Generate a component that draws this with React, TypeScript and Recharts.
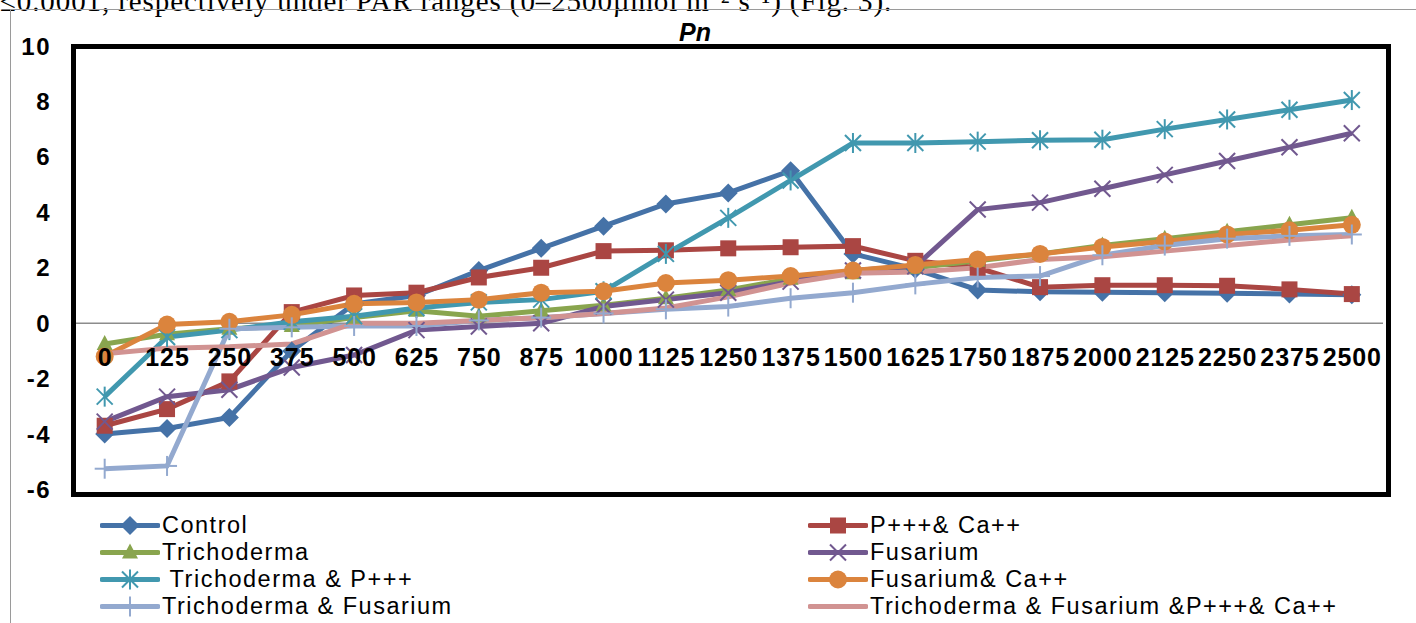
import React from "react";
import { LineChart, Line, XAxis, YAxis, ReferenceLine } from "recharts";

const categories = [
  "0", "125", "250", "375", "500", "625", "750", "875", "1000", "1125", "1250",
  "1375", "1500", "1625", "1750", "1875", "2000", "2125", "2250", "2375", "2500",
];

const control = [-4.0, -3.8, -3.4, -1.0, 0.7, 1.0, 1.9, 2.7, 3.5, 4.3, 4.7, 5.5, 2.5, 1.95, 1.2, 1.13, 1.12, 1.1, 1.08, 1.05, 1.03];
const pCa = [-3.7, -3.1, -2.1, 0.4, 1.0, 1.1, 1.65, 2.0, 2.6, 2.63, 2.7, 2.74, 2.78, 2.25, 2.0, 1.3, 1.37, 1.37, 1.35, 1.22, 1.05];
const trichoderma = [-0.75, -0.4, -0.2, -0.1, 0.2, 0.45, 0.25, 0.45, 0.65, 0.9, 1.2, 1.6, 1.8, 2.0, 2.25, 2.5, 2.8, 3.05, 3.3, 3.55, 3.8];
const fusarium = [-3.55, -2.65, -2.4, -1.6, -1.15, -0.25, -0.12, 0.0, 0.6, 0.85, 1.1, 1.5, 1.9, 2.05, 4.1, 4.35, 4.85, 5.35, 5.85, 6.35, 6.85];
const trichP = [-2.65, -0.5, -0.25, 0.05, 0.25, 0.55, 0.75, 0.85, 1.15, 2.5, 3.8, 5.15, 6.5, 6.5, 6.55, 6.6, 6.62, 7.0, 7.35, 7.7, 8.05];
const fusCa = [-1.2, -0.05, 0.05, 0.3, 0.7, 0.75, 0.85, 1.1, 1.15, 1.45, 1.55, 1.7, 1.9, 2.1, 2.3, 2.5, 2.75, 2.95, 3.2, 3.35, 3.55];
const trichFus = [-5.25, -5.15, -0.2, -0.15, -0.1, -0.1, 0.1, 0.2, 0.35, 0.5, 0.6, 0.9, 1.1, 1.4, 1.65, 1.7, 2.45, 2.8, 3.05, 3.15, 3.2];
const allFour = [-1.1, -0.9, -0.85, -0.75, 0.0, 0.0, 0.1, 0.2, 0.35, 0.55, 0.95, 1.45, 1.8, 1.85, 2.0, 2.3, 2.4, 2.6, 2.8, 3.0, 3.15];

const yTicks = [-6, -4, -2, 0, 2, 4, 6, 8, 10];
const Y_MIN = -6;
const Y_MAX = 10;

type Shape = "diamond" | "square" | "triangle" | "x" | "asterisk" | "circle" | "plus" | "none";

const series: { key: string; name: string; values: number[]; color: string; shape: Shape }[] = [
  { key: "control", name: "Control", values: control, color: "#4572A7", shape: "diamond" },
  { key: "pCa", name: "P+++& Ca++", values: pCa, color: "#AA4643", shape: "square" },
  { key: "trichoderma", name: "Trichoderma", values: trichoderma, color: "#89A54E", shape: "triangle" },
  { key: "fusarium", name: "Fusarium", values: fusarium, color: "#71588F", shape: "x" },
  { key: "trichP", name: " Trichoderma & P+++", values: trichP, color: "#4198AF", shape: "asterisk" },
  { key: "fusCa", name: "Fusarium& Ca++", values: fusCa, color: "#DB843D", shape: "circle" },
  { key: "trichFus", name: "Trichoderma & Fusarium", values: trichFus, color: "#93A9CF", shape: "plus" },
  { key: "allFour", name: "Trichoderma & Fusarium &P+++& Ca++", values: allFour, color: "#D19392", shape: "none" },
];

const data = categories.map((c, i) => {
  const row: Record<string, string | number> = { par: c };
  series.forEach((s) => (row[s.key] = s.values[i]));
  return row;
});

const W = 1416;
const H = 623;
const PLOT_LEFT = 73.5;
const PLOT_TOP = 46;
const PLOT_RIGHT = 1383;
const PLOT_BOTTOM = 489.5;
const PLOT_H = PLOT_BOTTOM - PLOT_TOP;
const Y_AXIS_W = 60;
const X_AXIS_H = 20;
// half a category band on each side, Excel style
const HALF_BAND = (PLOT_RIGHT - PLOT_LEFT) / categories.length / 2;

function marker(shape: Shape, cx: number, cy: number, color: string, key?: string | number) {
  switch (shape) {
    case "diamond":
      return <polygon key={key} points={`${cx},${cy - 9.5} ${cx + 9.5},${cy} ${cx},${cy + 9.5} ${cx - 9.5},${cy}`} fill={color} />;
    case "square":
      return <rect key={key} x={cx - 8} y={cy - 8} width={16} height={16} fill={color} />;
    case "triangle":
      return <polygon key={key} points={`${cx},${cy - 9} ${cx + 8},${cy + 6} ${cx - 8},${cy + 6}`} fill={color} />;
    case "circle":
      return <circle key={key} cx={cx} cy={cy} r={9} fill={color} />;
    case "x":
      return (
        <g key={key} stroke={color} strokeWidth={2}>
          <line x1={cx - 8} y1={cy - 8} x2={cx + 8} y2={cy + 8} />
          <line x1={cx - 8} y1={cy + 8} x2={cx + 8} y2={cy - 8} />
        </g>
      );
    case "asterisk":
      return (
        <g key={key} stroke={color} strokeWidth={2}>
          <line x1={cx - 8} y1={cy - 8} x2={cx + 8} y2={cy + 8} />
          <line x1={cx - 8} y1={cy + 8} x2={cx + 8} y2={cy - 8} />
          <line x1={cx} y1={cy - 10} x2={cx} y2={cy + 10} />
        </g>
      );
    case "plus":
      return (
        <g key={key} stroke={color} strokeWidth={2}>
          <line x1={cx} y1={cy - 10} x2={cx} y2={cy + 10} />
          <line x1={cx - 10} y1={cy} x2={cx + 10} y2={cy} />
        </g>
      );
    default:
      return <g key={key} />;
  }
}

const XTick = (props: any) => {
  const { x, payload } = props;
  // labels sit just under the zero line, as in the original
  const zeroY = PLOT_BOTTOM - ((0 - Y_MIN) / (Y_MAX - Y_MIN)) * PLOT_H;
  return (
    <text x={x + 0.5} y={zeroY + 43} textAnchor="middle" fontSize={25} fontWeight="bold" letterSpacing={0.9} fill="#000" fontFamily="Liberation Sans, Arial, sans-serif">
      {payload.value}
    </text>
  );
};

const YTick = (props: any) => {
  const { y, payload } = props;
  return (
    <text x={51} y={y + 8.5} textAnchor="end" fontSize={24} fontWeight="bold" letterSpacing={1.5} fill="#000" fontFamily="Liberation Sans, Arial, sans-serif">
      {payload.value}
    </text>
  );
};

export default function App() {
  return (
    <div style={{ position: "absolute", left: 0, top: 0, width: W, height: H, overflow: "hidden", background: "#fff" }}>
      <div
        style={{
          position: "absolute",
          left: 0,
          top: -20,
          fontFamily: "Liberation Serif, Times New Roman, serif",
          fontSize: 29,
          letterSpacing: 0.9,
          whiteSpace: "nowrap",
          color: "#000",
        }}
      >
        ≤0.0001, respectively under PAR ranges (0–2500µmol m⁻² s⁻¹) (Fig. 3).
      </div>
      <div
        style={{
          position: "absolute",
          left: 10,
          top: 9,
          width: W,
          height: H,
          borderLeft: "1.5px solid #9a9a9a",
          borderTop: "1.5px solid #9a9a9a",
        }}
      />
      <span
        style={{
          position: "absolute",
          left: 679,
          top: 18,
          fontFamily: "Liberation Sans, Arial, sans-serif",
          fontSize: 25,
          fontWeight: "bold",
          fontStyle: "italic",
        }}
      >
        Pn
      </span>
      <div style={{ position: "absolute", left: 0, top: 0 }}>
        <LineChart
          width={W}
          height={H}
          data={data}
          margin={{ top: PLOT_TOP, right: W - PLOT_RIGHT, bottom: H - PLOT_BOTTOM - X_AXIS_H, left: PLOT_LEFT - Y_AXIS_W }}
        >
          <XAxis
            dataKey="par"
            axisLine={false}
            tickLine={false}
            tickSize={0}
            tickMargin={0}
            height={X_AXIS_H}
            interval={0}
            padding={{ left: HALF_BAND, right: HALF_BAND }}
            tick={(p: any) => <XTick {...p} />}
          />
          <YAxis domain={[Y_MIN, Y_MAX]} ticks={yTicks} width={Y_AXIS_W} axisLine={false} tickLine={false} tick={(p: any) => <YTick {...p} />} interval={0} />
          <ReferenceLine y={0} stroke="#8c8c8c" strokeWidth={1.5} />
          {series.map((s) => (
            <Line
              key={s.key}
              dataKey={s.key}
              name={s.name}
              stroke={s.color}
              strokeWidth={5}
              isAnimationActive={false}
              dot={(p: any) => marker(s.shape, p.cx, p.cy, s.color, `${s.key}-${p.index}`)}
              activeDot={false}
            />
          ))}
        </LineChart>
      </div>
      <div
        style={{
          position: "absolute",
          left: PLOT_LEFT - 2.5,
          top: PLOT_TOP - 2.5,
          width: PLOT_RIGHT - PLOT_LEFT,
          height: PLOT_BOTTOM - PLOT_TOP,
          border: "5px solid #000",
          pointerEvents: "none",
        }}
      />
      {series.map((s, i) => {
        const col = i % 2;
        const row = Math.floor(i / 2);
        const left = col === 0 ? 100 : 808;
        const top = 512 + row * 27;
        return (
          <div key={s.key} style={{ position: "absolute", left, top, height: 27, display: "flex", alignItems: "center" }}>
            <svg width={60} height={27} style={{ display: "block" }}>
              <line x1={2} y1={13.5} x2={58} y2={13.5} stroke={s.color} strokeWidth={5} strokeLinecap="round" />
              {marker(s.shape, 30, 13.5, s.color)}
            </svg>
            <span
              style={{
                fontFamily: "Liberation Sans, Arial, sans-serif",
                fontSize: 23.5,
                letterSpacing: 1.5,
                color: "#000",
                whiteSpace: "pre",
                marginLeft: 2,
                lineHeight: "27px",
              }}
            >
              {s.name}
            </span>
          </div>
        );
      })}
    </div>
  );
}
